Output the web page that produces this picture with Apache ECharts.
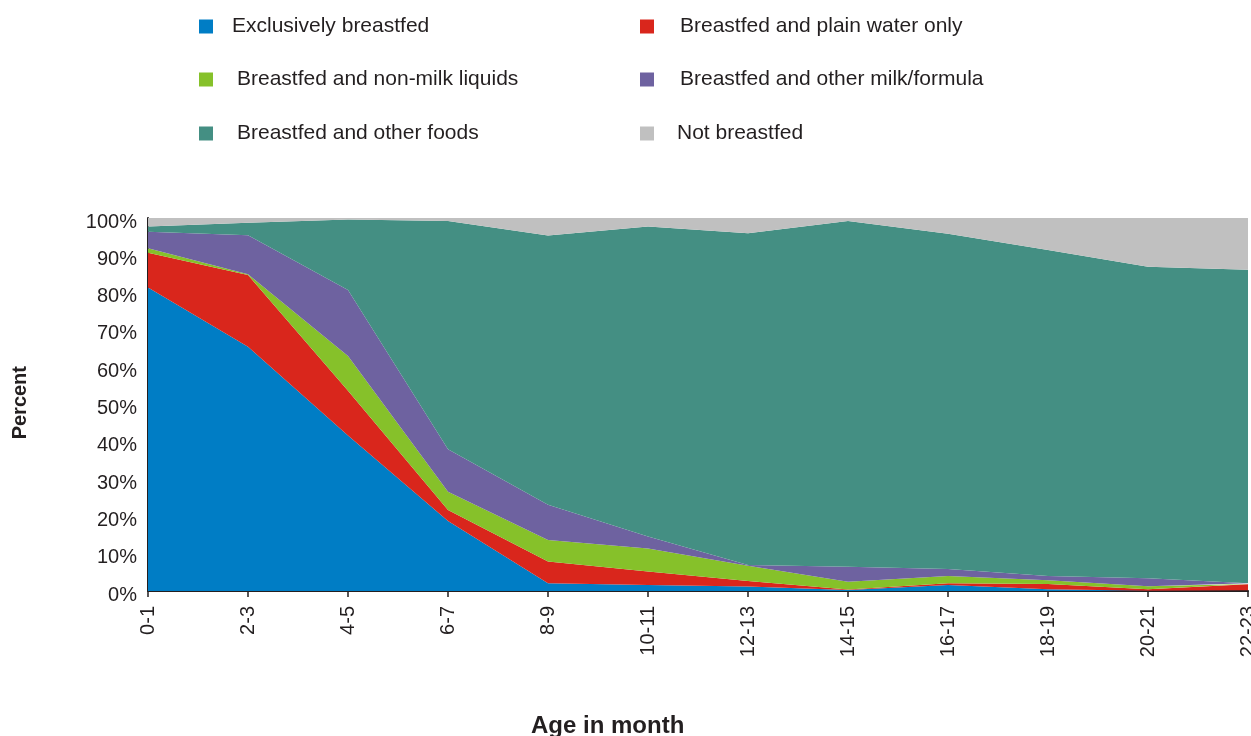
<!DOCTYPE html>
<html>
<head>
<meta charset="utf-8">
<script src="https://cdn.jsdelivr.net/npm/echarts@6/dist/echarts.min.js"></script>
<style>
html,body{margin:0;padding:0;background:#fff;}
#chart{width:1251px;height:736px;}
</style>
</head>
<body>
<div id="chart"></div>
<script>
const categories = ['0-1','2-3','4-5','6-7','8-9','10-11','12-13','14-15','16-17','18-19','20-21','22-23'];
const yTicks = [0,10,20,30,40,50,60,70,80,90,100];
const exclusivelyBreastfed = [81.4,65.5,41.7,18.8,2.1,1.6,1.2,0.3,1.6,0.5,0.1,0.2];
const plainWaterOnly       = [9.3,19.2,12.0,2.9,5.8,3.6,1.5,0.1,0.5,1.4,0.4,1.6];
const nonMilkLiquids       = [1.2,0.2,9.3,4.9,5.8,6.2,4.1,2.1,1.9,1.0,0.8,0.1];
const otherMilkFormula     = [4.4,10.5,17.7,11.4,9.4,3.2,0.2,4.0,1.9,1.1,2.1,0.2];
const otherFoods           = [1.4,3.3,18.9,61.2,72.2,83.1,88.9,92.7,89.9,87.4,83.5,84.0];
const notBreastfed         = [2.3,1.3,0.4,0.8,4.7,2.3,4.1,0.8,4.2,8.6,13.1,13.9];

const names = ['Exclusively breastfed','Breastfed and plain water only','Breastfed and non-milk liquids','Breastfed and other milk/formula','Breastfed and other foods','Not breastfed'];
const colors = ['#007dc5','#d9261c','#86c12a','#6e62a0','#448f83','#c0c0c0'];
const seriesData = [exclusivelyBreastfed, plainWaterOnly, nonMilkLiquids, otherMilkFormula, otherFoods, notBreastfed];

const textColor = '#231f20';
const font = 'Liberation Sans, Arial, sans-serif';

const legendPos = [
  {left:199, top:16, pad:14},
  {left:640, top:16, pad:21},
  {left:199, top:69, pad:19},
  {left:640, top:69, pad:21},
  {left:199, top:123, pad:19},
  {left:640, top:123, pad:18}
];

const chart = echarts.init(document.getElementById('chart'));
chart.setOption({
  animation:false,
  backgroundColor:'#fff',
  legend: names.map((n,i)=>({
    data:[n], left:legendPos[i].left, top:legendPos[i].top, padding:0,
    icon:'rect', itemWidth:14, itemHeight:14, selectedMode:false,
    textStyle:{color:textColor, fontSize:21, fontFamily:font, padding:[0,0,0,legendPos[i].pad]}
  })),
  grid:{left:148, top:218, width:1100, height:373, containLabel:false, outerBoundsMode:'none'},
  xAxis:{
    type:'category', data:categories, boundaryGap:false,
    axisLine:{show:true, lineStyle:{color:textColor, width:2}},
    axisTick:{show:true, length:6, lineStyle:{color:textColor, width:1.5}},
    axisLabel:{rotate:90, margin:15, color:textColor, fontSize:20, fontFamily:font, interval:0},
    splitLine:{show:false}
  },
  yAxis:{
    type:'value', min:0, max:100, interval:10,
    axisLine:{show:true, lineStyle:{color:textColor, width:2}},
    axisTick:{show:false},
    splitLine:{show:false},
    axisLabel:{formatter:v=>v+'%', color:textColor, fontSize:20, fontFamily:font, margin:11, verticalAlign:'top', lineHeight:8}
  },
  graphic:[
    {type:'text', left:10, top:366, rotation:Math.PI/2,
     style:{text:'Percent', fill:textColor, font:'bold 20px '+font}},
    {type:'text', left:531, top:714,
     style:{text:'Age in month', fill:textColor, font:'bold 24px '+font}}
  ],
  series: names.map((n,i)=>({
    name:n, type:'line', stack:'total', data:seriesData[i],
    symbol:'none', smooth:false,
    lineStyle:{width:0, color:colors[i]},
    itemStyle:{color:colors[i]},
    areaStyle:{color:colors[i], opacity:1}
  }))
});
</script>
</body>
</html>
